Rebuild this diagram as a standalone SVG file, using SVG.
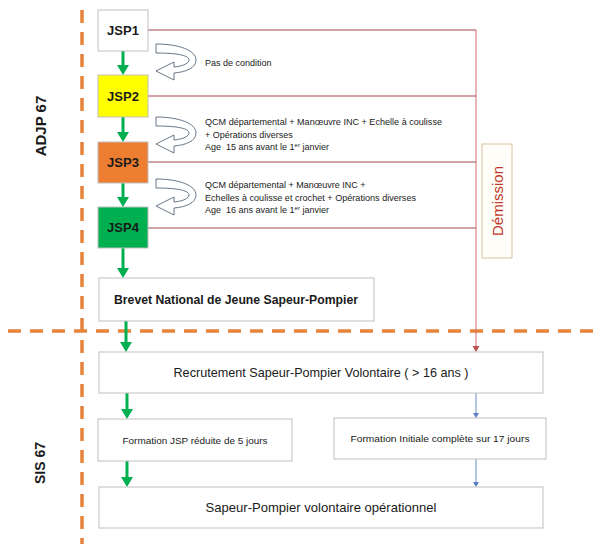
<svg xmlns="http://www.w3.org/2000/svg" width="606" height="544" viewBox="0 0 606 544">
<style>
text{font-family:"Liberation Sans",Arial,sans-serif;fill:#1a1a1a}
.box{fill:#fff;stroke:#bfbfbf;stroke-width:1}
.jsp{font-size:13px;font-weight:bold;text-anchor:middle}
.note{font-size:9px}
.sep{stroke:#e8833a;stroke-width:3.5;fill:none;stroke-dasharray:13 9}
.green{stroke:#00b050;stroke-width:3;fill:none}
.red{stroke:#a8474a;stroke-width:1;fill:none}
.redv{stroke:#d36a6f;stroke-width:1;fill:none}
.blue{stroke:#7f9fcf;stroke-width:1.2;fill:none}
.uturn{fill:#fff;stroke:#44546a;stroke-width:0.8}
</style>
<defs>
<path id="ut" d="M0,0 C22,0 40,6 40,16 C40,24 30,28 18,29 L18,36 L0,27 L18,18 L18,23 C28,22 33,19 33,16 C33,12 24,9 0,9 Z"/>
</defs>
<rect width="606" height="544" fill="#fff"/>

<g id="separators">
<line class="sep" x1="82" y1="10" x2="82" y2="544"/>
<line class="sep" x1="8" y1="331" x2="602" y2="331"/>
</g>

<g id="labels">
<text transform="translate(46,126) rotate(-90)" font-size="15" font-weight="bold" text-anchor="middle">ADJP 67</text>
<text transform="translate(45,463) rotate(-90)" font-size="14" font-weight="bold" text-anchor="middle">SIS 67</text>
</g>

<g id="connectors">
<path class="redv" d="M476,30 V347"/>
<path class="red" d="M148,30 H476"/>
<path class="red" d="M148,96 H476"/>
<path class="red" d="M148,162 H476"/>
<path class="red" d="M148,228 H476"/>
<path d="M472.5,346 L479.5,346 L476,352 Z" fill="#c0504d"/>
<g fill="#00b050">
<line class="green" x1="123" y1="51" x2="123" y2="66"/><path d="M117,65 L129,65 L123,75 Z"/>
<line class="green" x1="123" y1="117" x2="123" y2="133"/><path d="M117,132 L129,132 L123,142 Z"/>
<line class="green" x1="123" y1="183" x2="123" y2="198"/><path d="M117,197 L129,197 L123,207 Z"/>
<line class="green" x1="123" y1="248" x2="123" y2="269"/><path d="M117,268 L129,268 L123,278 Z"/>
<line class="green" x1="126" y1="321" x2="126" y2="343"/><path d="M120,342 L132,342 L126,352 Z"/>
<line class="green" x1="127" y1="393" x2="127" y2="410"/><path d="M121,409 L133,409 L127,419 Z"/>
<line class="green" x1="127" y1="461" x2="127" y2="478"/><path d="M121,477 L133,477 L127,487 Z"/>
</g>
<line class="blue" x1="476" y1="393" x2="476" y2="414"/><path d="M473,413 L479,413 L476,418 Z" fill="#5b7fbf"/>
<line class="blue" x1="476" y1="459" x2="476" y2="483"/><path d="M473,482 L479,482 L476,487 Z" fill="#5b7fbf"/>
<use href="#ut" class="uturn" transform="translate(156,44)"/>
<use href="#ut" class="uturn" transform="translate(156,117)"/>
<use href="#ut" class="uturn" transform="translate(156,179)"/>
</g>

<g id="notes">
<text class="note" x="205" y="66">Pas de condition</text>
<text class="note" x="205" y="125" textLength="237" lengthAdjust="spacingAndGlyphs">QCM départemental + Manœuvre INC + Echelle à coulisse</text>
<text class="note" x="205" y="138">+ Opérations diverses</text>
<text class="note" x="205" y="150">Age &#160;15 ans avant le 1<tspan font-size="6" dy="-3">er</tspan><tspan dy="3"> janvier</tspan></text>
<text class="note" x="205" y="188">QCM départemental + Manœuvre INC +</text>
<text class="note" x="205" y="201" textLength="211" lengthAdjust="spacingAndGlyphs">Echelles à coulisse et crochet + Opérations diverses</text>
<text class="note" x="205" y="213">Age &#160;16 ans avant le 1<tspan font-size="6" dy="-3">er</tspan><tspan dy="3"> janvier</tspan></text>
</g>

<g id="JSP1"><rect class="box" x="98" y="10" width="50" height="41"/><text class="jsp" x="123" y="35">JSP1</text></g>
<g id="JSP2"><rect x="98" y="75" width="50" height="42" fill="#ffff00" stroke="#bfbfbf"/><text class="jsp" x="123" y="101">JSP2</text></g>
<g id="JSP3"><rect x="98" y="142" width="50" height="41" fill="#ed7d31" stroke="#bfbfbf"/><text class="jsp" x="123" y="167">JSP3</text></g>
<g id="JSP4"><rect x="98" y="207" width="50" height="41" fill="#00b050" stroke="#bfbfbf"/><text class="jsp" x="123" y="232">JSP4</text></g>

<g id="demission"><rect x="482" y="144" width="30" height="114" fill="#fffdf8" stroke="#d9c3a0"/><text transform="translate(503,201) rotate(-90)" font-size="15" style="fill:#c0392b" text-anchor="middle">Démission</text></g>

<g id="brevet"><rect class="box" x="99" y="278" width="275" height="43"/><text x="236" y="304" font-size="12.5" font-weight="bold" text-anchor="middle" textLength="244" lengthAdjust="spacingAndGlyphs">Brevet National de Jeune Sapeur-Pompier</text></g>

<g id="recrutement"><rect class="box" x="99" y="352" width="444" height="41"/><text x="321" y="377" font-size="13" text-anchor="middle" textLength="295" lengthAdjust="spacingAndGlyphs">Recrutement Sapeur-Pompier Volontaire ( &gt; 16 ans )</text></g>

<g id="formation-jsp"><rect class="box" x="98" y="419" width="194" height="42"/><text x="195" y="444" font-size="9.5" text-anchor="middle" textLength="145" lengthAdjust="spacingAndGlyphs">Formation JSP réduite de 5 jours</text></g>

<g id="formation-initiale"><rect class="box" x="334" y="418" width="212" height="41"/><text x="440" y="442" font-size="9.5" text-anchor="middle" textLength="179" lengthAdjust="spacingAndGlyphs">Formation Initiale complète sur 17 jours</text></g>

<g id="operationnel"><rect class="box" x="99" y="487" width="444" height="41"/><text x="321" y="512" font-size="13" text-anchor="middle" textLength="231" lengthAdjust="spacingAndGlyphs">Sapeur-Pompier volontaire opérationnel</text></g>
</svg>
